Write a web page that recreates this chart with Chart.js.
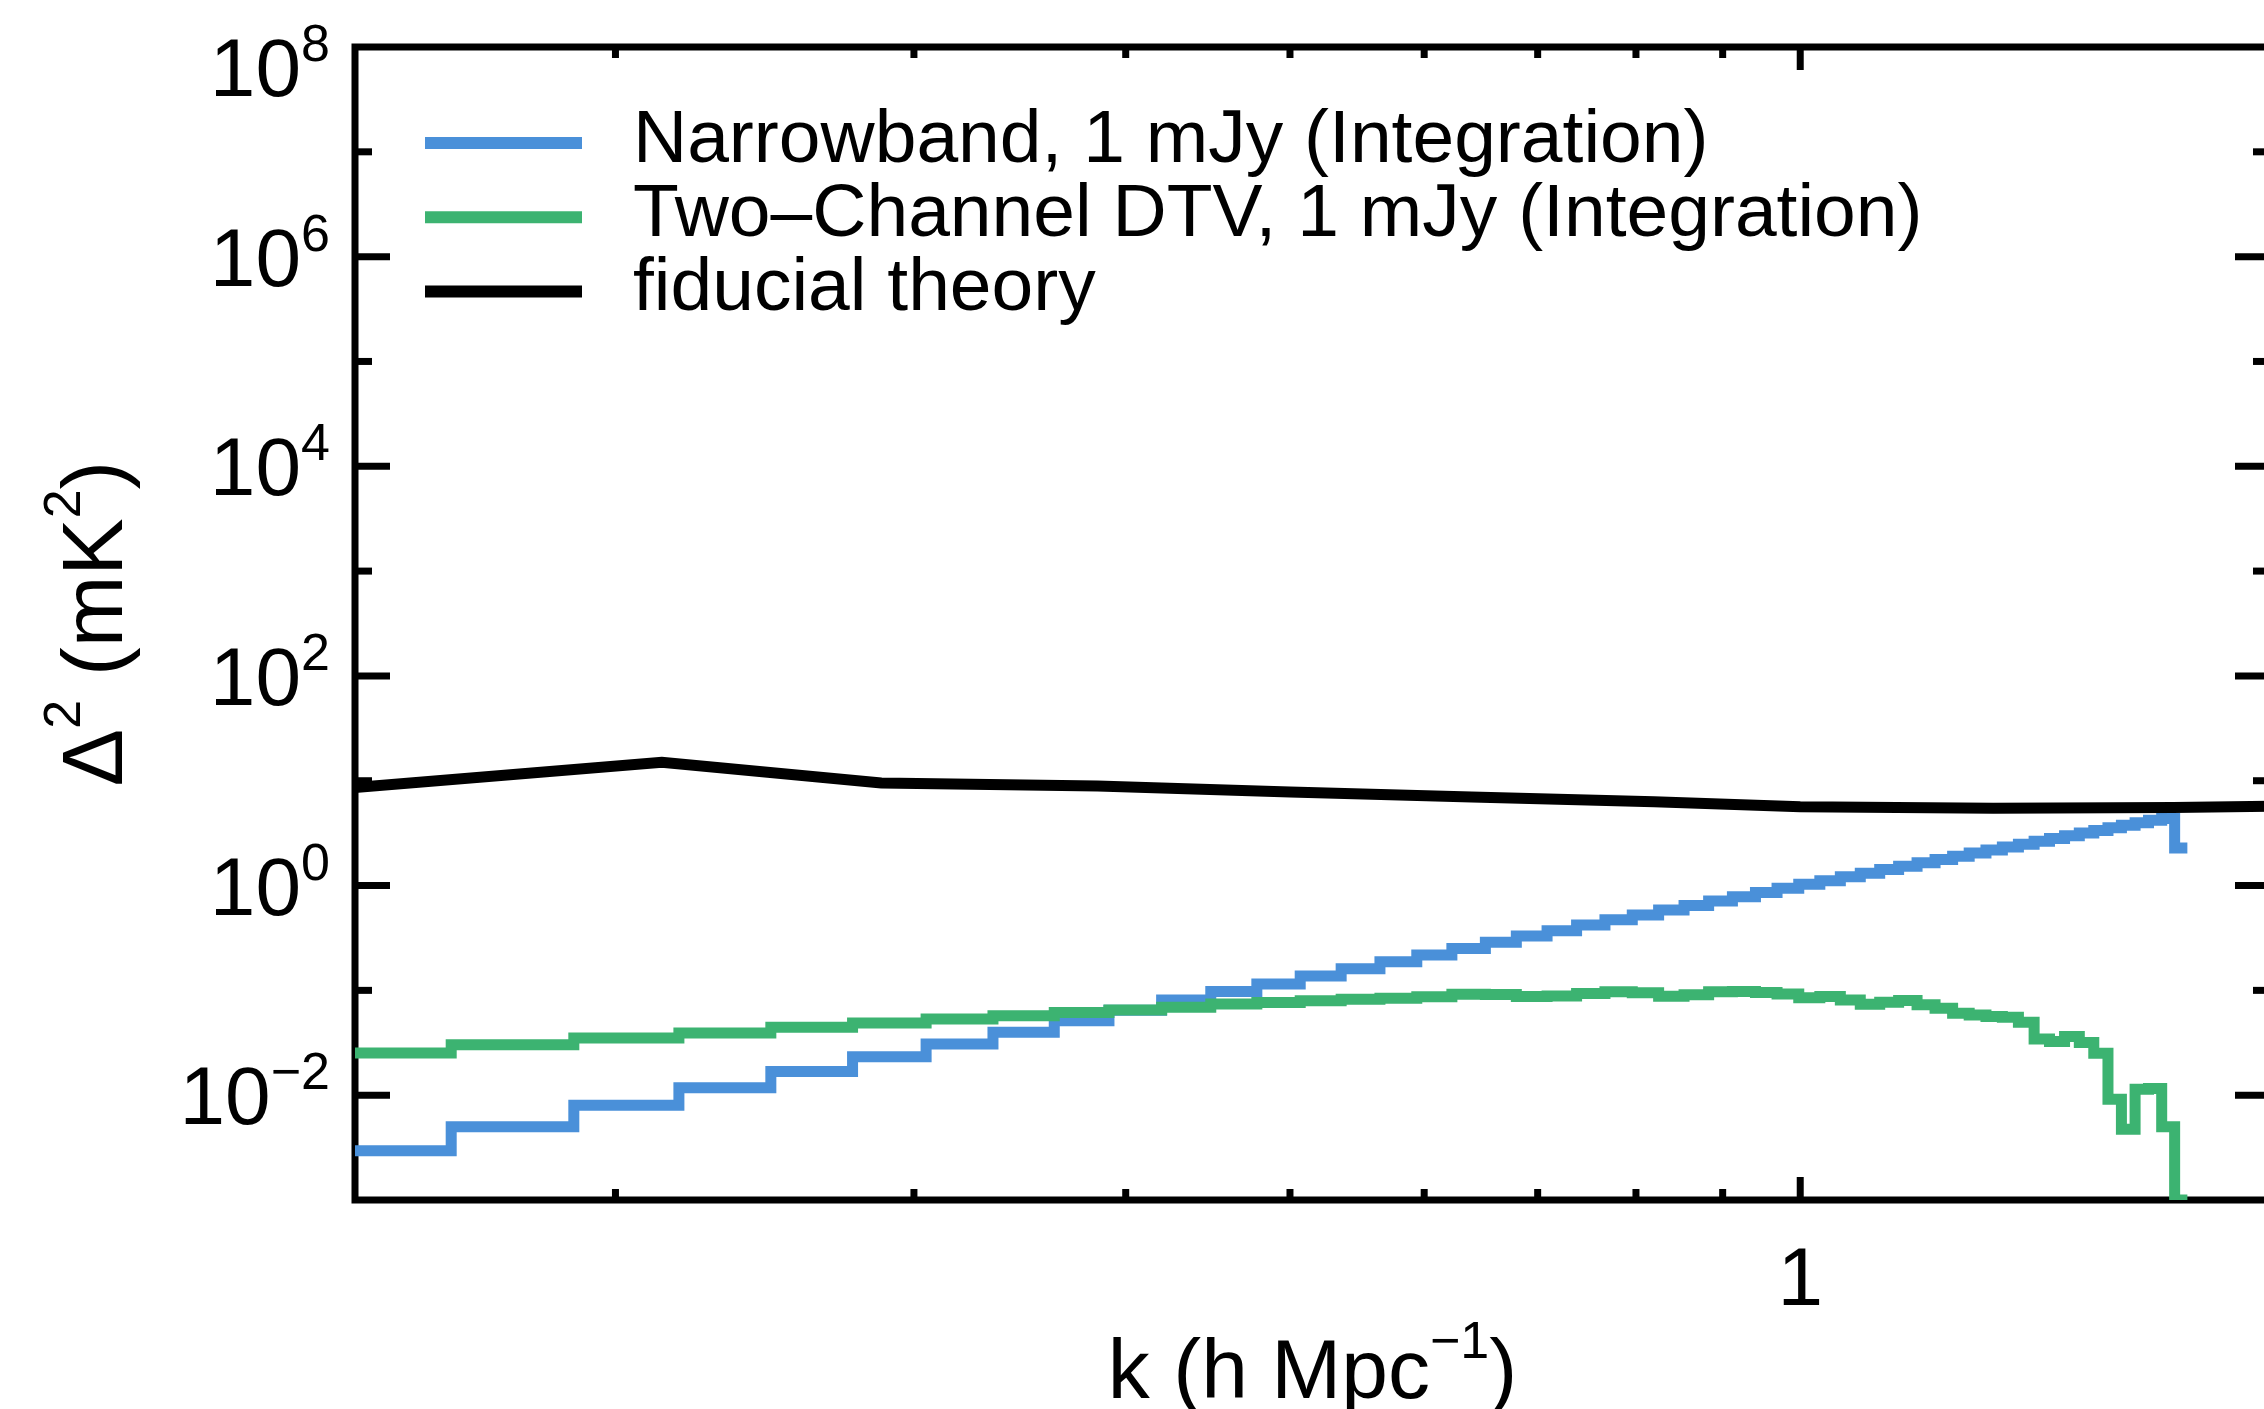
<!DOCTYPE html>
<html>
<head>
<meta charset="utf-8">
<script src="https://cdn.jsdelivr.net/npm/chart.js@4.4.0/dist/chart.umd.min.js"></script>
<style>
  html, body { margin: 0; padding: 0; background: #fff; overflow: hidden; }
  #wrap { width: 2264px; height: 1409px; overflow: hidden; }
  canvas { display: block; }
</style>
</head>
<body>
<div id="wrap"><canvas id="psChart" width="2300" height="1409"></canvas></div>
<script>
// bin edges in k (h/Mpc); first entry is where the plot starts
var kEdges = [0.1404, 0.160, 0.189, 0.218, 0.247, 0.276, 0.305, 0.334, 0.363, 0.391,
  0.420, 0.449, 0.478, 0.507, 0.536, 0.565, 0.594, 0.623, 0.652, 0.680,
  0.709, 0.738, 0.767, 0.796, 0.825, 0.854, 0.883, 0.912, 0.941, 0.969,
  0.998, 1.027, 1.056, 1.085, 1.114, 1.143, 1.172, 1.201, 1.230, 1.258,
  1.287, 1.316, 1.345, 1.374, 1.403, 1.432, 1.461, 1.490, 1.519, 1.547,
  1.576, 1.605, 1.634, 1.663, 1.692];

// one value per bin (mK^2)
var narrowband = [0.00295, 0.00501, 0.00802, 0.0118, 0.0168, 0.0232, 0.0307, 0.0398, 0.0513, 0.0646,
  0.0811, 0.0973, 0.115, 0.137, 0.161, 0.187, 0.217, 0.251, 0.288, 0.330,
  0.370, 0.420, 0.471, 0.525, 0.583, 0.646, 0.713, 0.783, 0.859, 0.940,
  1.03, 1.11, 1.21, 1.31, 1.42, 1.53, 1.65, 1.77, 1.90, 2.04,
  2.18, 2.33, 2.48, 2.64, 2.81, 2.99, 3.17, 3.36, 3.56, 3.76,
  3.97, 4.20, 4.37, 2.28];

var twoChannel = [0.0252, 0.0303, 0.0351, 0.0391, 0.0444, 0.0488, 0.0532, 0.0573, 0.0615, 0.0649,
  0.0689, 0.0743, 0.0766, 0.0794, 0.0824, 0.0841, 0.0867, 0.0918, 0.0912, 0.0873,
  0.0885, 0.0933, 0.0968, 0.0951, 0.0877, 0.0910, 0.0971, 0.0977, 0.0955, 0.0923,
  0.0851, 0.0875, 0.0811, 0.0738, 0.0771, 0.0800, 0.0728, 0.0676, 0.0605, 0.0583,
  0.0562, 0.0555, 0.0497, 0.0344, 0.0325, 0.0362, 0.0318, 0.0251, 0.00916, 0.00473,
  0.0114, 0.0116, 0.00501, 0.001];

var fiducialK = [0.1404, 0.213, 0.287, 0.385, 0.50, 0.64, 0.82, 1.0, 1.30, 1.66, 1.893];
var fiducialV = [8.6, 15.0, 9.5, 8.9, 7.8, 7.0, 6.3, 5.65, 5.45, 5.55, 5.7];

var seriesLabels = ["Narrowband, 1 mJy (Integration)", "Two\u2013Channel DTV, 1 mJy (Integration)", "fiducial theory"];

var yMajorExp = [-2, 0, 2, 4, 6, 8];
var yTickLabels = ["\u22122", "0", "2", "4", "6", "8"];
var yMinorExp = [-1, 1, 3, 5, 7];
var xMinorTicks = [0.2, 0.3, 0.4, 0.5, 0.6, 0.7, 0.8, 0.9];
var xMajorTicks = [1];
var xTickLabels = ["1"];

var FONT = '"Liberation Sans", Arial, Helvetica, sans-serif';

function stepPoints(edges, vals) {
  var pts = vals.map(function(v, i) { return { x: edges[i], y: v }; });
  pts.push({ x: edges[vals.length], y: vals[vals.length - 1] });
  return pts;
}

// text runs: [text, size, baseline shift]
function runsWidth(ctx, runs) {
  var w = 0;
  runs.forEach(function(r) { ctx.font = r[1] + "px " + FONT; w += ctx.measureText(r[0]).width; });
  return w;
}
function drawRuns(ctx, runs, x, y, align) {
  var w = runsWidth(ctx, runs);
  if (align === "right") x -= w;
  else if (align === "center") x -= w / 2;
  ctx.textAlign = "left";
  ctx.textBaseline = "alphabetic";
  runs.forEach(function(r) {
    ctx.font = r[1] + "px " + FONT;
    ctx.fillText(r[0], x, y + (r[2] || 0));
    x += ctx.measureText(r[0]).width;
  });
}
function seg(ctx, x1, y1, x2, y2) {
  ctx.beginPath(); ctx.moveTo(x1, y1); ctx.lineTo(x2, y2); ctx.stroke();
}

// box, inward ticks and labels
var framePlugin = {
  id: "frame",
  beforeDatasetsDraw: function(chart) {
    var ctx = chart.ctx, a = chart.chartArea;
    var xs = chart.scales.x, ys = chart.scales.y;
    ctx.save();
    ctx.strokeStyle = "#000";
    ctx.lineWidth = 7;
    ctx.lineCap = "butt";
    ctx.strokeRect(a.left, a.top, a.right - a.left, a.bottom - a.top);

    yMajorExp.concat(yMinorExp).forEach(function(p) {
      if (p === 8) return;
      var y = ys.getPixelForValue(Math.pow(10, p));
      var len = yMajorExp.indexOf(p) >= 0 ? 35 : 17;
      seg(ctx, a.left, y, a.left + len, y);
      seg(ctx, a.right, y, a.right - len, y);
    });
    xMinorTicks.concat(xMajorTicks).forEach(function(k) {
      var x = xs.getPixelForValue(k);
      var len = xMajorTicks.indexOf(k) >= 0 ? 23 : 11;
      seg(ctx, x, a.bottom, x, a.bottom - len);
      seg(ctx, x, a.top, x, a.top + len);
    });

    ctx.fillStyle = "#000";
    yMajorExp.forEach(function(p, i) {
      var y = ys.getPixelForValue(Math.pow(10, p));
      if (p === 8) y += 20; // top label sits a bit lower in the original
      drawRuns(ctx, [["10", 82, 0], [yTickLabels[i], 52, -35]], 330, y + 29, "right");
    });
    xMajorTicks.forEach(function(k, i) {
      drawRuns(ctx, [[xTickLabels[i], 82, 0]], xs.getPixelForValue(k), 1305, "center");
    });

    drawRuns(ctx, [["k (h Mpc", 84, 0], ["\u22121", 52, -40], [")", 84, 0]],
      (a.left + a.right) / 2, 1398, "center");

    ctx.save();
    ctx.translate(122, (a.top + a.bottom) / 2);
    ctx.rotate(-Math.PI / 2);
    drawRuns(ctx, [["\u0394", 86, 0], ["2", 52, -42], [" (mK", 86, 0], ["2", 52, -42], [")", 86, 0]], 0, 0, "center");
    ctx.restore();
    ctx.restore();
  },
  afterDraw: function(chart) {
    var ctx = chart.ctx;
    ctx.save();
    chart.data.datasets.forEach(function(ds, i) {
      var yl = 143 + i * 74.2;
      ctx.strokeStyle = ds.borderColor;
      ctx.lineWidth = 12;
      ctx.lineCap = "butt";
      seg(ctx, 425, yl, 582, yl);
      ctx.fillStyle = "#000";
      drawRuns(ctx, [[ds.label, 75, 0]], 633, 161.7 + i * 74.2, "left");
    });
    ctx.restore();
  }
};

new Chart(document.getElementById("psChart"), {
  type: "line",
  data: {
    datasets: [{
      label: seriesLabels[0],
      data: stepPoints(kEdges, narrowband),
      borderColor: "#4a90d9",
      borderWidth: 11,
      stepped: true,
      pointRadius: 0,
      order: 3
    }, {
      label: seriesLabels[1],
      data: stepPoints(kEdges, twoChannel),
      borderColor: "#3cb371",
      borderWidth: 11,
      stepped: true,
      pointRadius: 0,
      order: 2
    }, {
      label: seriesLabels[2],
      data: fiducialK.map(function(k, i) { return { x: k, y: fiducialV[i] }; }),
      borderColor: "#000000",
      borderWidth: 11,
      tension: 0,
      pointRadius: 0,
      order: 1
    }]
  },
  options: {
    responsive: false,
    animation: false,
    events: [],
    layout: { padding: { left: 355, right: 30, top: 47, bottom: 209 } },
    plugins: {
      legend: { display: false },
      tooltip: { enabled: false }
    },
    scales: {
      x: { type: "logarithmic", min: 0.1404, max: 1.893, display: false },
      y: { type: "logarithmic", min: 1e-3, max: 1e8, display: false }
    }
  },
  plugins: [framePlugin]
});
</script>
</body>
</html>
